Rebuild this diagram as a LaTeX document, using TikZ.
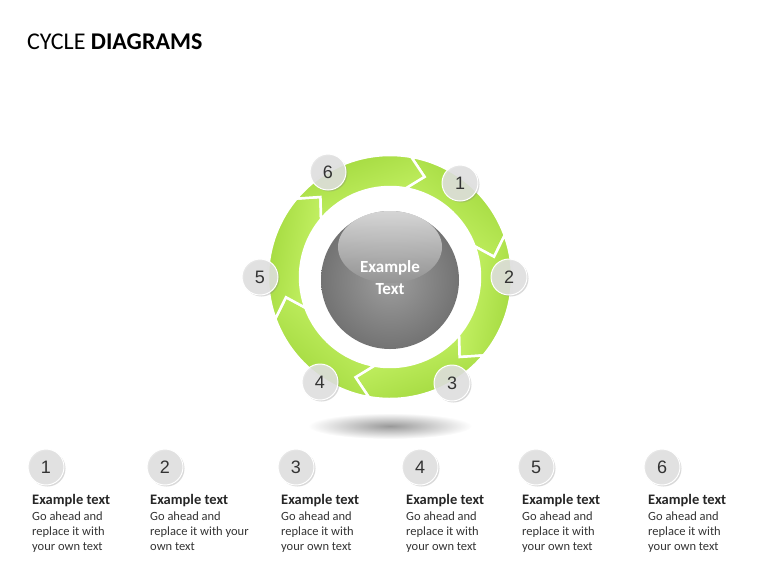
\documentclass[tikz,border=0pt]{standalone}
\usepackage{fontspec}
\setmainfont{Carlito}
\newfontfamily\numfont{Liberation Sans}
\usetikzlibrary{shadows,calc}
\definecolor{gA}{HTML}{9FD63A}
\definecolor{gB}{HTML}{C9F56A}
\definecolor{cgray}{HTML}{E2E2E2}
\begin{document}
\begin{tikzpicture}[x=1pt,y=-1pt,
  num/.style={circle,minimum size=36pt,inner sep=0pt,fill=cgray,fill opacity=0.85,text opacity=1,
     draw=white,line width=1pt,drop shadow={shadow xshift=1.5pt,shadow yshift=-1.5pt,opacity=0.3},
     font=\numfont\fontsize{18}{18}\selectfont,text=black!80},
  head/.style={anchor=north west,font=\bfseries\fontsize{14.5}{15}\selectfont,text=black!85,inner sep=0pt},
  body/.style={anchor=north west,align=left,font=\fontsize{12.5}{15}\selectfont,text=black!80,inner sep=0pt}]
\useasboundingbox (0,0) rectangle (768,576);
\node[anchor=west,inner sep=0pt,font=\fontsize{24}{24}\selectfont] (title) at (27,42) {CYCLE \textbf{DIAGRAMS}};
% shadow
\shade[inner color=black!40,outer color=white] (390,426) ellipse[x radius=82,y radius=13];
% ring segments
\coordinate (c) at (390,277);
\foreach \a in {80,20,-40,-100,-160,140}{
  \pgfmathsetmacro{\b}{\a-60}
  \shadedraw[top color=gA,bottom color=gB,shading angle=\a-120,draw=white,line width=2.5pt,line join=miter]
    ($(c)+(\a:122 and -122)$) arc[start angle=-\a,end angle=-\b,radius=122]
    -- ($(c)+(\b-9:106 and -106)$)
    -- ($(c)+(\b:90 and -90)$) arc[start angle=-\b,end angle=-\a,radius=90]
    -- ($(c)+(\a-9:106 and -106)$) -- cycle;
}
% sphere
\shade[inner color=black!38,outer color=black!55] (390,280) circle[radius=69];
\shade[top color=white!88!black,bottom color=black!42,opacity=0.9] (390,247) ellipse[x radius=52,y radius=36];
\node[font=\bfseries\fontsize{17}{22}\selectfont,text=white,align=center] (center) at (390,278) {Example\\Text};
% ring numbers
\node[num] (r1) at (460,183) {1};
\node[num] (r2) at (509,277) {2};
\node[num] (r3) at (452,383) {3};
\node[num] (r4) at (320,382) {4};
\node[num] (r5) at (260,277) {5};
\node[num] (r6) at (328,172) {6};
% bottom list
\foreach \i/\cx/\tx/\txt in {1/46/32/{Go ahead and\\replace it with\\your own text},
  2/165/150/{Go ahead and\\replace it with your\\own text},
  3/296/281/{Go ahead and\\replace it with\\your own text},
  4/420/406/{Go ahead and\\replace it with\\your own text},
  5/536/522/{Go ahead and\\replace it with\\your own text},
  6/662/648/{Go ahead and\\replace it with\\your own text}}{
  \node[num] (b\i) at (\cx,467) {\i};
  \node[head] (h\i) at (\tx,494) {Example text};
  \node[body] (t\i) at (\tx,512) {\txt};
}
\end{tikzpicture}
\end{document}
